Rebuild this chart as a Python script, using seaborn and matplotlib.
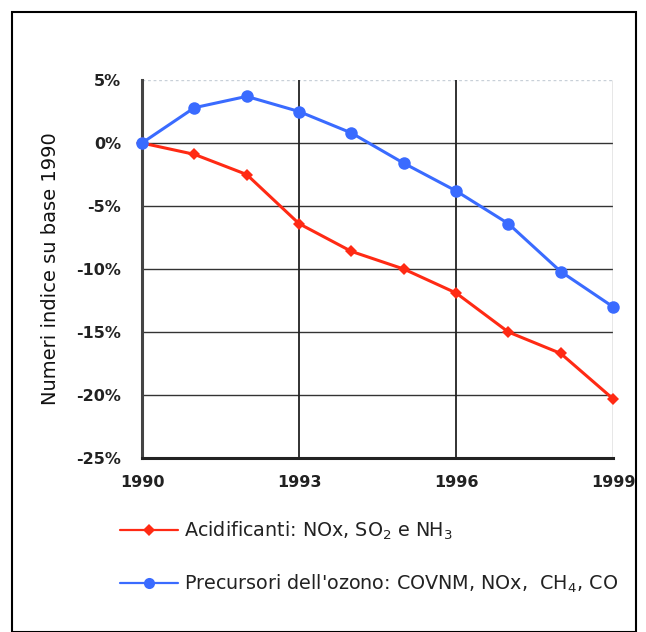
import numpy as np
import pandas as pd
import seaborn as sns
import matplotlib.pyplot as plt
from matplotlib.ticker import FuncFormatter
from matplotlib.patches import Rectangle
from matplotlib.lines import Line2D

anni = [1990, 1991, 1992, 1993, 1994, 1995, 1996, 1997, 1998, 1999]
acidificanti = [0.0, -0.9, -2.5, -6.4, -8.6, -10.0, -11.9, -15.0, -16.7, -20.3]
precursori = [0.0, 2.8, 3.7, 2.5, 0.8, -1.6, -3.8, -6.4, -10.2, -13.0]
serie = ["Acidificanti: NOx, SO$_2$ e NH$_3$",
         "Precursori dell'ozono: COVNM, NOx,  CH$_4$, CO"]
colori = ["#ff2a14", "#3a6bff"]

df = pd.DataFrame({
    "anno": anni * 2,
    "valore": acidificanti + precursori,
    "serie": [serie[0]] * len(anni) + [serie[1]] * len(anni),
})

sns.set_style("white")
plt.rcParams["font.family"] = ["DejaVu Sans"]
plt.rcParams["mathtext.fontset"] = "dejavusans"

fig = plt.figure(figsize=(6.46, 6.32), dpi=100)
ax = fig.add_axes([142 / 646, 1 - 458 / 632, 471 / 646, 378 / 632])

sns.lineplot(data=df, x="anno", y="valore", hue="serie", style="serie",
             markers={serie[0]: "D", serie[1]: "o"}, dashes=False,
             palette=colori, linewidth=2.2, markersize=7, markeredgewidth=0,
             ax=ax, legend=False, zorder=3)
ax.lines[0].set_markersize(6)
ax.lines[1].set_markersize(9)
for ln in ax.lines:
    ln.set_clip_on(False)

ax.set_xlim(1990, 1999)
ax.set_ylim(-25, 5)
ax.set_xticks([1990, 1993, 1996, 1999])
ax.set_yticks(np.arange(-25, 6, 5))
ax.yaxis.set_major_formatter(FuncFormatter(lambda v, p: f"{int(v)}%"))
ax.tick_params(axis="both", labelsize=11.5, length=5, color="#333333")
ax.tick_params(axis="x", pad=7)
ax.tick_params(axis="y", pad=10)
for lab in ax.get_xticklabels() + ax.get_yticklabels():
    lab.set_fontweight("bold")
    lab.set_color("#222222")

for y in range(-20, 1, 5):
    ax.axhline(y, color="#333333", linewidth=1.0, zorder=1)
ax.axhline(5, color="#c8d0d8", linewidth=1.0, linestyle=(0, (2, 2)), zorder=1)
for x in [1993, 1996]:
    ax.axvline(x, color="#222222", linewidth=1.3, zorder=1)
ax.axvline(1999, color="#888888", linewidth=1.0, zorder=1)

for s in ["top", "right"]:
    ax.spines[s].set_visible(False)
ax.spines["left"].set_color("#444444")
ax.spines["left"].set_linewidth(2.2)
ax.spines["bottom"].set_color("#222222")
ax.spines["bottom"].set_linewidth(2.2)

ax.set_xlabel("")
ax.set_ylabel("Numeri indice su base 1990", fontsize=14, labelpad=12, color="#111111")

# legenda sotto il grafico
handles = [Line2D([], [], color=colori[0], marker="D", markersize=6, linewidth=1.6, markeredgewidth=0),
           Line2D([], [], color=colori[1], marker="o", markersize=8, linewidth=1.6, markeredgewidth=0)]
fig.legend(handles, serie, loc="upper left", bbox_to_anchor=(103 / 646, 1 - 502 / 632),
           frameon=False, fontsize=13.8, handlelength=3.0, labelspacing=1.6,
           handletextpad=0.3, labelcolor="#222222")

fig.patches.append(Rectangle((12 / 646, 0.0), 624 / 646, 1 - 12 / 632, transform=fig.transFigure,
                             fill=False, edgecolor="black", linewidth=1.5))

fig.savefig("out.png", dpi=100)
